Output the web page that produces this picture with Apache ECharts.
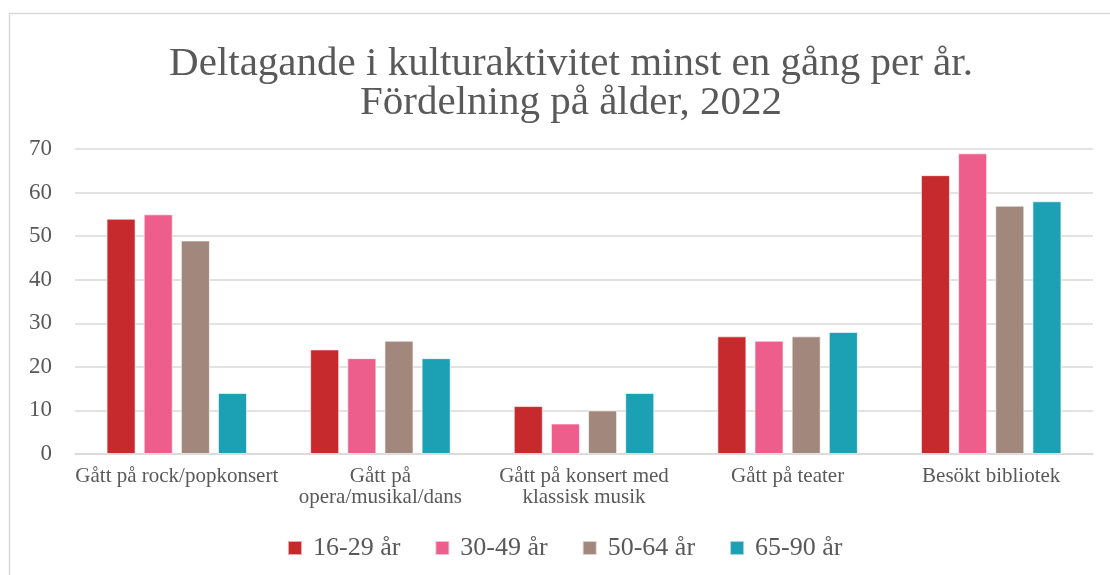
<!DOCTYPE html>
<html>
<head>
<meta charset="utf-8">
<script src="https://cdn.jsdelivr.net/npm/echarts@6/dist/echarts.min.js"></script>
<style>
  html, body { margin: 0; padding: 0; background: #fff; }
  #chart { width: 1110px; height: 575px; }
</style>
</head>
<body>
<div id="chart"></div>
<script>
// ============ data ============
const categories = [
  'Gått på rock/popkonsert',
  'Gått på\nopera/musikal/dans',
  'Gått på konsert med\nklassisk musik',
  'Gått på teater',
  'Besökt bibliotek'
];
const ageGroups = ['16-29 år', '30-49 år', '50-64 år', '65-90 år'];
const age16_29 = [54, 24, 11, 27, 64];
const age30_49 = [55, 22, 7, 26, 69];
const age50_64 = [49, 26, 10, 27, 57];
const age65_90 = [14, 22, 14, 28, 58];
const yTicks = { min: 0, max: 70, interval: 10 };

const colors = ['#C62A2C', '#EE5E8C', '#A2877D', '#1BA0B4'];
const serif = '"Liberation Serif", "DejaVu Serif", serif';
const textColor = '#595959';

const chart = echarts.init(document.getElementById('chart'));

const seriesData = [age16_29, age30_49, age50_64, age65_90];
const series = seriesData.map((d, i) => ({
  name: ageGroups[i],
  type: 'bar',
  data: d,
  barGap: '28%',
  barCategoryGap: '31%',
  itemStyle: { color: colors[i], borderColor: 'rgba(255,255,255,0.6)', borderWidth: 1 },
}));

chart.setOption({
  animation: false,
  title: {
    text: 'Deltagande i kulturaktivitet minst en gång per år.\nFördelning på ålder, 2022',
    left: 566,
    textAlign: 'center',
    top: 40,
    textStyle: { fontFamily: serif, fontSize: 41, fontWeight: 'normal', color: textColor, lineHeight: 39 },
  },
  legend: {
    data: ageGroups,
    top: 530,
    left: 282,
    icon: 'rect',
    itemWidth: 14,
    itemHeight: 14,
    itemGap: 34,
    textStyle: { fontFamily: serif, fontSize: 26, color: textColor, padding: [0, 0, 0, 6] },
  },
  grid: { left: 75, right: 17, top: 149, bottom: 121, containLabel: false },
  xAxis: {
    type: 'category',
    data: categories,
    axisTick: { show: false },
    axisLine: { lineStyle: { color: '#D9D9D9', width: 1.5 } },
    axisLabel: { fontFamily: serif, fontSize: 21, color: textColor, margin: 12, lineHeight: 21, interval: 0 },
  },
  yAxis: {
    type: 'value',
    min: yTicks.min,
    max: yTicks.max,
    interval: yTicks.interval,
    axisLine: { show: false },
    axisTick: { show: false },
    splitLine: { lineStyle: { color: '#D9D9D9', width: 1.5 } },
    axisLabel: { fontFamily: serif, fontSize: 23, color: textColor, margin: 23 },
  },
  graphic: [{
    type: 'rect',
    left: 7, top: 11,
    shape: { width: 1200, height: 700 },
    style: { fill: 'none', stroke: '#D9D9D9', lineWidth: 1.5 },
    silent: true,
  }],
  series: series,
});
</script>
</body>
</html>
